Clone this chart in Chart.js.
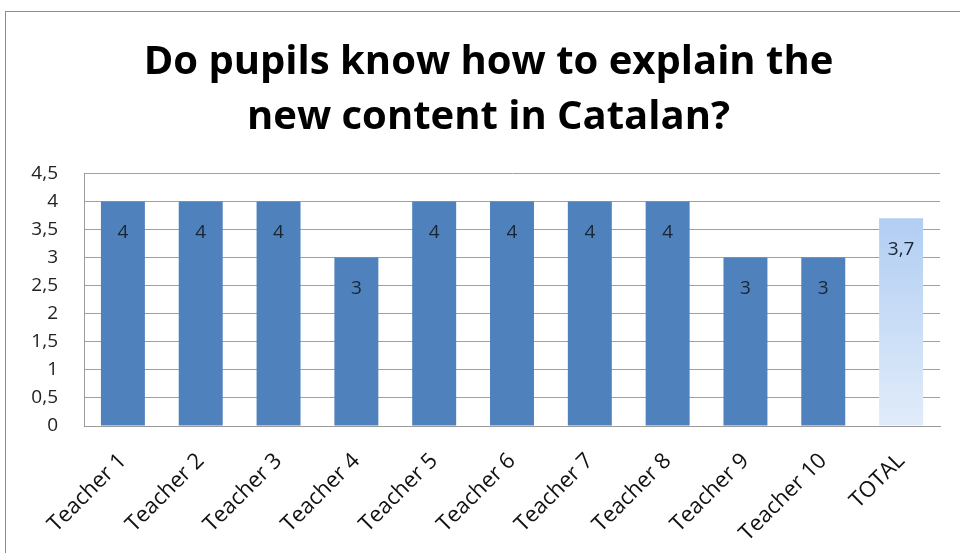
<!DOCTYPE html>
<html>
<head>
<meta charset="utf-8">
<script src="https://cdn.jsdelivr.net/npm/chart.js@4"></script>
<style>
  html, body { margin: 0; padding: 0; background: #fff; }
  #frame {
    position: absolute; left: 5px; top: 11px; width: 970px; height: 560px;
    border: 1px solid #8c8c8c; box-sizing: border-box;
  }
  #wrap { position: absolute; left: 0; top: 0; width: 960px; height: 553px; }
</style>
</head>
<body>
<div id="frame"></div>
<div id="wrap"><canvas id="pupilsChart" width="960" height="553"></canvas></div>
<script>
/* answers per teacher plus the overall average */
var teachers = ["Teacher 1", "Teacher 2", "Teacher 3", "Teacher 4", "Teacher 5",
                "Teacher 6", "Teacher 7", "Teacher 8", "Teacher 9", "Teacher 10", "TOTAL"];
var scores = [4, 4, 4, 3, 4, 4, 4, 4, 3, 3, 3.7];
var yTicks = [0, 0.5, 1, 1.5, 2, 2.5, 3, 3.5, 4, 4.5];

var fontFamily = "'Open Sans', sans-serif";

function comma(v) {
  return String(v).replace(".", ",");
}

// light gradient for the TOTAL column
function barColor(ctx) {
  if (ctx.dataIndex !== teachers.length - 1) return "#4f81bd";
  var area = ctx.chart.chartArea;
  if (!area) return "#c6dbf5";
  var g = ctx.chart.ctx.createLinearGradient(0, area.top, 0, area.bottom);
  g.addColorStop(0, "#a7c7f1");
  g.addColorStop(1, "#e1ecfa");
  return g;
}

// value written just inside the top of each bar
var valueLabels = {
  id: "valueLabels",
  afterDatasetsDraw: function (chart) {
    var c = chart.ctx;
    var meta = chart.getDatasetMeta(0);
    c.save();
    c.font = "19px " + fontFamily;
    c.fillStyle = "#1a2533";
    c.textAlign = "center";
    c.textBaseline = "middle";
    meta.data.forEach(function (bar, i) {
      c.fillText(comma(scores[i]), bar.x, bar.y + 31);
    });
    c.restore();
  }
};

// nudge the title a little to the right of the canvas centre
var titleShift = {
  id: "titleShift",
  afterLayout: function (chart) {
    if (chart.titleBlock) chart.titleBlock.left += 15;
  }
};

var ctx = document.getElementById("pupilsChart").getContext("2d");

var pupilsChart = new Chart(ctx, {
  type: "bar",
  data: {
    labels: teachers,
    datasets: [{
      data: scores,
      backgroundColor: barColor,
      borderWidth: 0,
      categoryPercentage: 1,
      barPercentage: 0.565
    }]
  },
  options: {
    responsive: false,
    animation: false,
    layout: { padding: { left: 22, right: 20, top: 25, bottom: 0 } },
    plugins: {
      legend: { display: false },
      tooltip: { enabled: false },
      title: {
        display: true,
        text: ["Do pupils know how to explain the", "new content in Catalan?"],
        color: "#000",
        font: { family: fontFamily, size: 40, weight: "bold", lineHeight: 1.38 },
        padding: { top: 10, bottom: 28 }
      }
    },
    scales: {
      x: {
        grid: { display: false },
        border: { display: true, color: "#9a9a9a", width: 1 },
        afterFit: function (axis) { axis.height = 127; },
        ticks: {
          color: "#111",
          font: { family: fontFamily, size: 22 },
          minRotation: 45,
          maxRotation: 45,
          padding: 14
        }
      },
      y: {
        min: 0,
        max: 4.5,
        afterBuildTicks: function (axis) {
          axis.ticks = yTicks.map(function (v) { return { value: v }; });
        },
        afterFit: function (axis) { axis.width = 62; },
        grid: { color: "#a0a0a0", lineWidth: 1, drawTicks: false },
        border: { display: true, color: "#9a9a9a", width: 1 },
        ticks: {
          color: "#222",
          font: { family: fontFamily, size: 19 },
          padding: 26,
          callback: function (v) { return comma(v); }
        }
      }
    }
  },
  plugins: [valueLabels, titleShift]
});
</script>
</body>
</html>
